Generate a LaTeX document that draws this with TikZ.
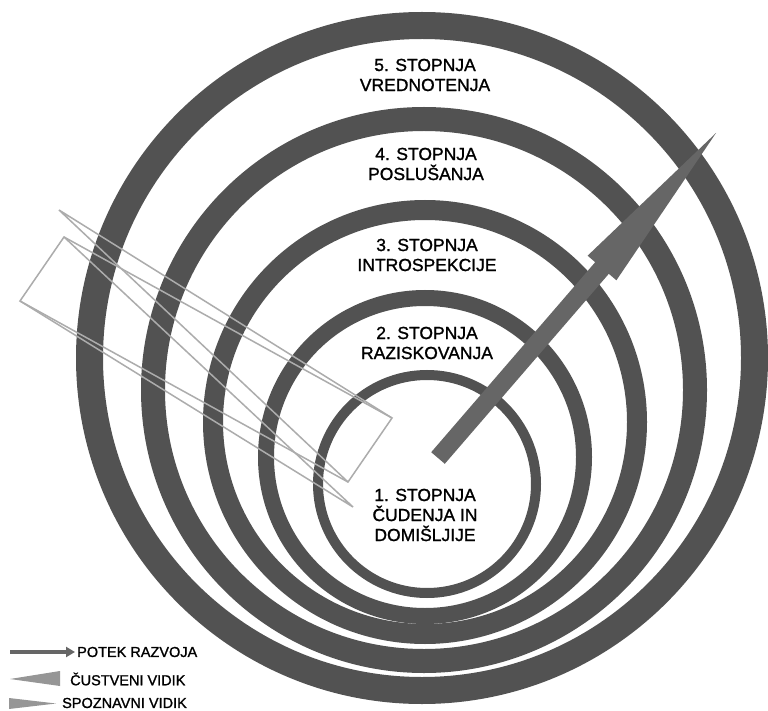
\documentclass[tikz,border=0pt]{standalone}
\usepackage{fontspec}
\setmainfont{Liberation Sans}
\newfontfamily\labelfont[FakeBold=1.2]{Liberation Sans}
\usetikzlibrary{arrows.meta}
\definecolor{ringgray}{RGB}{82,82,82}
\definecolor{arrowgray}{RGB}{102,102,102}
\definecolor{linegray}{RGB}{172,172,172}
\definecolor{wedgegray}{RGB}{150,150,150}
\tikzset{
  ringline/.style={draw=ringgray},
  stagetext/.style={align=center, inner sep=0pt, font=\labelfont\fontsize{17.5}{20}\selectfont},
  legendtext/.style={anchor=west, inner sep=0pt, font=\labelfont\fontsize{14.5}{16}\selectfont},
  aspectline/.style={draw=linegray, line width=1.5pt, line join=miter}
}
\begin{document}
\begin{tikzpicture}[x=1pt,y=-1pt]
\useasboundingbox[fill=white] (0,0) rectangle (768,711);
% rings
\draw[ringline, line width=27pt] (422,358) circle [radius=332.5pt];
\draw[ringline, line width=24pt] (424,390) circle [radius=271pt];
\draw[ringline, line width=20pt] (425,422) circle [radius=212pt];
\draw[ringline, line width=16pt] (425,457) circle [radius=159pt];
\draw[ringline, line width=10pt] (427,484) circle [radius=109pt];
% aspect outlines
\coordinate (ra) at (64,237);
\coordinate (rb) at (20,301);
\coordinate (rc) at (348,482);
\coordinate (rd) at (392,418);
\coordinate (apexA) at (59,210);
\coordinate (apexB) at (353,507);
\draw[aspectline] (ra) -- (rb) -- (rc) -- (rd) -- cycle;
\draw[aspectline] (rd) -- (apexA) -- (rc);
\draw[aspectline] (ra) -- (apexB) -- (rb);
% development arrow
\fill[arrowgray] (431.2,452.2) -- (595.2,262.2) -- (587.6,255.7) -- (716,133)
  -- (616.4,280.3) -- (608.8,273.8) -- (444.8,463.8) -- cycle;
% stage texts
\node[stagetext] (s5) at (425,75) {5. STOPNJA\\VREDNOTENJA};
\node[stagetext] (s4) at (426,164) {4. STOPNJA\\POSLUŠANJA};
\node[stagetext] (s3) at (427,255) {3. STOPNJA\\INTROSPEKCIJE};
\node[stagetext] (s2) at (427,343) {2. STOPNJA\\RAZISKOVANJA};
\node[stagetext] (s1) at (425,515) {1. STOPNJA\\ČUDENJA IN\\DOMIŠLJIJE};
% legend
\coordinate (la1) at (10,652);
\coordinate (la2) at (75,652);
\draw[arrowgray, line width=4.5pt, -{Triangle[length=9pt,width=10pt]}] (la1) -- (la2);
\node[legendtext] (l1) at (77,652) {POTEK RAZVOJA};
\fill[wedgegray] (10,679) -- (60,671) -- (60,686) -- cycle;
\node[legendtext] (l2) at (70,679) {ČUSTVENI VIDIK};
\fill[wedgegray] (9,698) -- (56,703.5) -- (9,709) -- cycle;
\node[legendtext] (l3) at (62,703) {SPOZNAVNI VIDIK};
\end{tikzpicture}
\end{document}
